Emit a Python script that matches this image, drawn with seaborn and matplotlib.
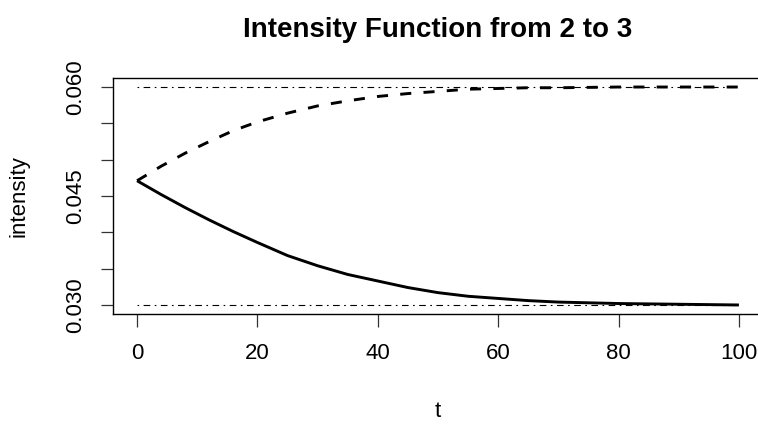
import matplotlib
matplotlib.use("Agg")
import matplotlib.pyplot as plt
import seaborn as sns
import numpy as np
import pandas as pd

# Time grid and intensity paths (transition 2 -> 3)
t_vals = [0, 4, 8, 12, 16, 20, 25, 30, 35, 40, 45, 50, 55, 60, 65, 70, 80, 90, 100]
intensity_up = [0.0471, 0.0491, 0.0509, 0.0525, 0.0540, 0.0552, 0.0564, 0.0574,
                0.0581, 0.0587, 0.0591, 0.0594, 0.0597, 0.0598, 0.0599, 0.0599,
                0.0600, 0.0600, 0.0600]
intensity_down = [0.0471, 0.0452, 0.0434, 0.0417, 0.0401, 0.0386, 0.0368, 0.0354,
                  0.0342, 0.0333, 0.0324, 0.0317, 0.0312, 0.0309, 0.0306, 0.0304,
                  0.0302, 0.0301, 0.0300]
bounds = [0.030, 0.060]

x_ticks = [0, 20, 40, 60, 80, 100]
y_ticks = [0.030, 0.035, 0.040, 0.045, 0.050, 0.055, 0.060]
y_tick_labels = ["0.030", "", "", "0.045", "", "", "0.060"]

sns.set_style("ticks", {"text.color": "black", "xtick.color": "black",
                        "ytick.color": "black", "axes.labelcolor": "black"})
plt.rcParams["font.family"] = ["Liberation Sans", "DejaVu Sans"]

df = pd.DataFrame({"t": t_vals, "up": intensity_up, "down": intensity_down})

fig = plt.figure(figsize=(7.58, 4.24), dpi=100)
ax = fig.add_axes([113 / 758, 1 - 313.7 / 424, 650 / 758, (313.7 - 78.3) / 424])

sns.lineplot(data=df, x="t", y="down", ax=ax, color="black", lw=2.1,
             linestyle="-", solid_capstyle="butt")
sns.lineplot(data=df, x="t", y="up", ax=ax, color="black", lw=2.1,
             linestyle=(0, (3.8, 4.2)), dash_capstyle="butt")
ax.hlines(bounds, t_vals[0], t_vals[-1], colors="black", lw=0.8,
          linestyles=[(0, (1.5, 4, 6, 4))])

ax.set_xlim(-4, 104)
ax.set_ylim(0.0288, 0.0612)
ax.set_xticks(x_ticks)
ax.set_xticklabels([str(v) for v in x_ticks])
ax.set_yticks(y_ticks)
ax.set_yticklabels(y_tick_labels, rotation=90, va="center")

for side in ["top", "right", "bottom", "left"]:
    ax.spines[side].set_visible(True)
    ax.spines[side].set_color("black")
    ax.spines[side].set_linewidth(1.0)

ax.tick_params(axis="both", length=9, width=0.9, color="#333333",
               labelcolor="black", labelsize=16, direction="out")
ax.tick_params(axis="x", pad=12)
ax.tick_params(axis="y", pad=10)

ax.set_xlabel("t", fontsize=16, labelpad=27, color="black")
ax.set_ylabel("intensity", fontsize=16, labelpad=26, color="black")
ax.set_title("Intensity Function from 2 to 3", fontsize=20, fontweight="bold",
             pad=30, color="black")

fig.savefig("out.png", dpi=100)
